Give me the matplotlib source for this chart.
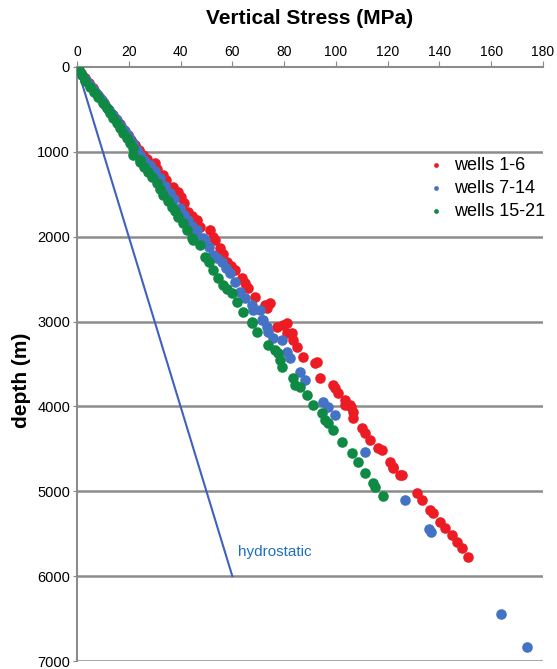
import matplotlib
matplotlib.use("Agg")
import matplotlib.pyplot as plt

# ---- data (stress MPa, depth m) ----
red_stress = [0.3, 1.5, 3, 4.5, 6, 7.5, 9, 10.5, 12, 13.5, 15, 16.5, 18.2, 19.8, 21, 22.5, 24, 25.6, 27, 30.1,
              31, 33.3, 34.5, 37.2, 39.1, 40, 41.5, 43, 44.5, 46.2, 47.5, 51.4, 52.7, 53.3, 55.2, 56.5, 57.8,
              59.5, 61, 63.6, 65, 66.2, 68.8, 72.6, 74.6, 73.3, 77.1, 79.7, 81, 81, 82.9, 83.6, 84.9, 87.4,
              91.9, 92.6, 93.9, 99, 99.7, 101, 103.5, 103.5, 105.5, 106, 106.7, 106.7, 110, 111.3, 113.2,
              116.4, 117.7, 120.9, 122.2, 122.2, 124.8, 125.4, 131.2, 133.2, 136.4, 137.6, 140.2, 142.2,
              144.7, 146.7, 148.6, 151.2]
red_depth = [20, 70, 130, 190, 250, 310, 370, 430, 490, 550, 610, 670, 740, 800, 860, 920, 980, 1037, 1090, 1135,
             1200, 1273, 1330, 1411, 1470, 1530, 1600, 1705, 1750, 1803, 1882, 1921, 2000, 2040, 2137, 2200, 2294,
             2340, 2392, 2490, 2550, 2608, 2706, 2805, 2785, 2844, 3060, 3040, 3021, 3139, 3139, 3217, 3296, 3414,
             3492, 3473, 3660, 3748, 3783, 3846, 3924, 3983, 3983, 4003, 4062, 4140, 4258, 4317, 4396,
             4494, 4514, 4651, 4710, 4730, 4808, 4808, 5024, 5103, 5221, 5260, 5359, 5437,
             5515, 5594, 5672, 5771]

blue_stress = [0.5, 2, 3.5, 5, 6.5, 8, 9.5, 11, 12.5, 14, 15.5, 17, 18.5, 20, 21.5, 23.1, 24.5, 26, 28.2, 30,
               32.1, 34, 35.9, 37.5, 39.8, 41.5, 43, 44.5, 45.6, 46.2, 48.8, 49.4, 51, 52.7, 54, 55.9, 57.5,
               59.1, 61, 63, 65, 67.5, 68.1, 70.7, 71.3, 72, 73.3, 73.9, 75.8, 79.1, 81, 82.3, 86.1, 88.1,
               95.2, 97.1, 99.7, 111.3, 126.7, 136.1, 136.8, 163.7, 174]
blue_depth = [30, 90, 150, 210, 270, 330, 390, 450, 510, 570, 630, 690, 750, 820, 890, 978, 1040, 1100, 1155, 1230,
              1312, 1400, 1489, 1560, 1666, 1740, 1803, 1870, 1960, 1921, 2019, 2039, 2120, 2216, 2250, 2294, 2370,
              2431, 2530, 2647, 2720, 2805, 2864, 2864, 2982, 2982, 3060, 3119, 3198, 3217, 3355, 3433, 3590, 3689,
              3944, 4003, 4101, 4533, 5103, 5445, 5484, 6450, 6832]

green_stress = [0.8, 2, 3.2, 5, 6.5, 8, 10.2, 11.5, 12.8, 14, 15.5, 16.5, 17.9, 19.2, 20.5, 21.8, 21.8, 24.3, 24.3,
                26, 27.5, 29, 30.8, 32, 33.3, 35, 36.6, 38, 39.1, 41.1, 42.5, 44.3, 44.9, 47.5, 49.4, 51, 52.7,
                54.6, 56.5, 58, 59.8, 61.7, 64.2, 67.5, 67.5, 69.4, 73.9, 76.5, 77.8, 78.4, 79.1, 83.6, 84.2,
                86.1, 88.7, 91.3, 94.5, 95.8, 97.1, 99, 102.3, 106.1, 108.7, 111.3, 114.5, 115.1, 118.1]
green_depth = [40, 100, 160, 232, 290, 350, 428, 480, 540, 605, 660, 720, 782, 840, 900, 958, 1037, 1096, 1116,
               1180, 1234, 1300, 1371, 1440, 1508, 1580, 1646, 1700, 1764, 1842, 1920, 2019, 2039, 2098, 2235, 2300,
               2392, 2490, 2569, 2620, 2667, 2765, 2883, 3001, 3021, 3119, 3276, 3335, 3374, 3453, 3532, 3669, 3748,
               3768, 3865, 3983, 4081, 4160, 4199, 4278, 4415, 4553, 4651, 4788, 4906, 4946, 5052]

hydro_stress = [0, 60]
hydro_depth = [0, 6000]

series_labels = ["wells 1-6", "wells 7-14", "wells 15-21"]
x_ticks = [0, 20, 40, 60, 80, 100, 120, 140, 160, 180]
y_ticks = [0, 1000, 2000, 3000, 4000, 5000, 6000, 7000]

plt.rcParams['font.family'] = ['Liberation Sans', 'DejaVu Sans']

fig = plt.figure(figsize=(5.57, 6.69), dpi=100)
ax = fig.add_axes([77/557, 1 - 661/669, (543-77)/557, (661-67)/669])

RED = "#ED1C24"
BLUE = "#4472C4"
GREEN = "#0E8A44"

s = 58
ax.scatter(red_stress, red_depth, s=s, color=RED, lw=0, label=series_labels[0], zorder=3)
ax.scatter(blue_stress, blue_depth, s=s, color=BLUE, lw=0, label=series_labels[1], zorder=4)
ax.scatter(green_stress, green_depth, s=s, color=GREEN, lw=0, label=series_labels[2], zorder=5)
ax.plot(hydro_stress, hydro_depth, color="#4060BF", lw=1.5, zorder=2)
ax.text(62, 5720, "hydrostatic", color="#1F6FC0", fontsize=11, va="center", ha="left")

ax.set_xlim(0, 180)
ax.set_ylim(7000, 0)
ax.xaxis.tick_top()
ax.set_xticks(x_ticks)
ax.set_yticks(y_ticks)
ax.tick_params(axis='x', labelsize=10, length=4, color="#888888", pad=2)
ax.tick_params(axis='y', labelsize=10.5, length=3, color="#888888", pad=2)
for lab in ax.get_xticklabels() + ax.get_yticklabels():
    lab.set_family(['Liberation Sans Narrow', 'Liberation Sans', 'DejaVu Sans'])

for sp in ["right", "bottom"]:
    ax.spines[sp].set_visible(False)
for sp in ["top", "left"]:
    ax.spines[sp].set_color("#8c8c8c")
    ax.spines[sp].set_linewidth(1.5)

for y in y_ticks[1:]:
    ax.axhline(y, color="#8c8c8c", lw=1.8, zorder=1)

fig.text(310/557, 1 - 18/669, "Vertical Stress (MPa)", fontsize=15, fontweight="bold", ha="center", va="center")
fig.text(22/557, 1 - 380/669, "depth (m)", fontsize=15, fontweight="bold", ha="center", va="center", rotation=90)

leg = fig.legend(loc="upper left", bbox_to_anchor=(427/557, 1 - 157/669),
                 frameon=False, fontsize=13, markerscale=0.45, handlelength=1.0, handletextpad=0.5,
                 labelspacing=0.32, borderaxespad=0, borderpad=0)

fig.savefig("out.png", dpi=100)
